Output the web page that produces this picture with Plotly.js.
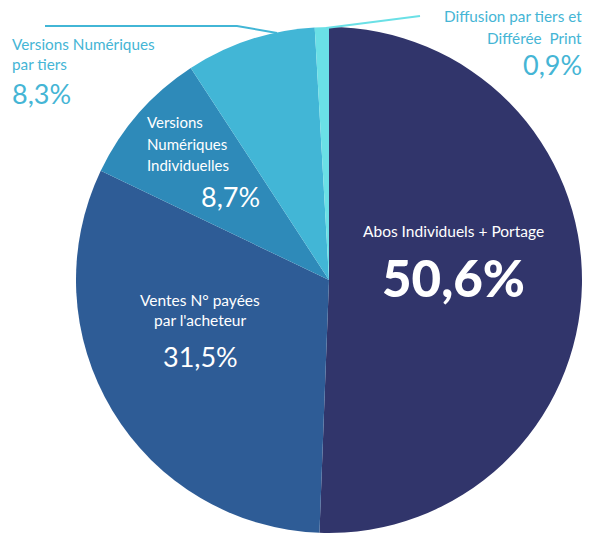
<!DOCTYPE html>
<html><head><meta charset="utf-8">
<script src="https://cdn.plot.ly/plotly-3.0.1.min.js"></script>
<style>body{margin:0;background:#fff}</style>
</head><body><div id="chart" style="width:593px;height:534px"></div>
<script>
const labels = ["Abos Individuels + Portage", "Ventes N° payées par l'acheteur", "Versions Numériques Individuelles", "Versions Numériques par tiers", "Diffusion par tiers et Différée  Print"];
const values = [50.6, 31.5, 8.7, 8.3, 0.9];
const colors = ["#31356B", "#2E5C96", "#2E8AB9", "#42B6D6", "#6AE0E6"];

const fmt = v => v.toFixed(1).replace('.', ',') + '%';
const F = "Lato, 'Noto Sans', sans-serif";
const W = 593, H = 534;
const px = x => x / W, py = y => 1 - y / H;

function ann(text, x, y, size, color, xanchor, bold) {
  const a = {text: text, x: px(x), y: py(y), xref: 'paper', yref: 'paper',
    showarrow: false, xanchor: xanchor || 'center', yanchor: 'middle',
    font: {family: F, size: size, color: color}};
  if (bold) a.font.weight = 900;
  return a;
}
const light = "#45B5D5";
const S = 15;
const annotations = [
  ann("Abos Individuels + Portage", 453, 231, 15.5, "#fff"),
  ann(fmt(values[0]), 453, 277, 51, "#fff", 'center', true),
  ann("Ventes N° payées", 200, 300, 15.5, "#fff"),
  ann("par l'acheteur", 200, 320, 15.5, "#fff"),
  ann(fmt(values[1]), 200, 356, 27, "#fff"),
  ann("Versions", 145, 122, S, "#fff", 'left'),
  ann("Numériques", 145, 144, S, "#fff", 'left'),
  ann("Individuelles", 145, 165, S, "#fff", 'left'),
  ann(fmt(values[2]), 262, 196, 27, "#fff", 'right'),
  ann("Versions Numériques", 10, 44, 15.3, light, 'left'),
  ann("par tiers", 10, 64, 15.3, light, 'left'),
  ann(fmt(values[3]), 10, 94, 27, light, 'left'),
  ann("Diffusion par tiers et", 584, 16, 15.3, light, 'right'),
  ann("Différée  Print", 584, 38, 15.3, light, 'right'),
  ann(fmt(values[4]), 584, 65, 27, light, 'right')
];
const shapes = [
  {type: 'path', xref: 'paper', yref: 'paper', path: `M ${px(45)} ${py(26)} L ${px(237)} ${py(26)} L ${px(277)} ${py(33)}`, line: {color: "#42B6D6", width: 2}},
  {type: 'line', xref: 'paper', yref: 'paper', x0: px(326), y0: py(28), x1: px(420), y1: py(16), line: {color: "#6AE0E6", width: 2}}
];

Plotly.newPlot('chart', [{
  type: 'pie', labels: labels, values: values, sort: false, direction: 'clockwise', rotation: 0,
  marker: {colors: colors, line: {width: 0}}, textinfo: 'none', hoverinfo: 'label+percent',
  domain: {x: [76 / W, 582 / W], y: [1 / H, 507 / H]}
}], {
  width: W, height: H, margin: {l: 0, r: 0, t: 0, b: 0}, showlegend: false,
  paper_bgcolor: '#fff', annotations: annotations, shapes: shapes
}, {displayModeBar: false, staticPlot: true});
</script></body></html>
